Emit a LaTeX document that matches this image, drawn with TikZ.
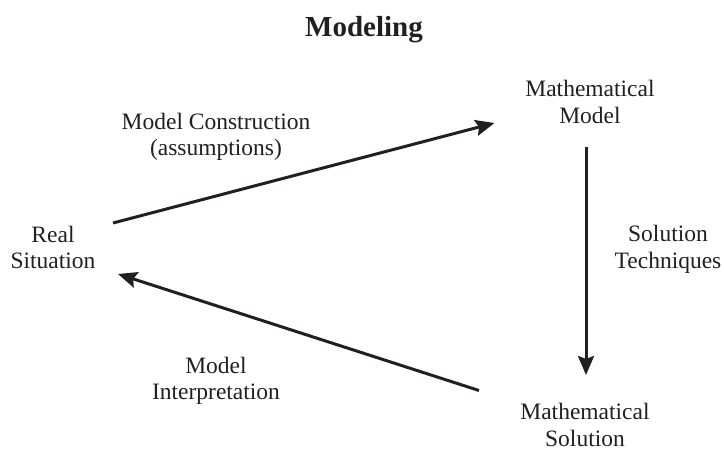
\documentclass[tikz,border=0pt]{standalone}
\usepackage{fontspec}
\setmainfont{Liberation Serif}
\usetikzlibrary{arrows.meta}
\definecolor{ink}{RGB}{35,31,32}
\tikzset{
  lbl/.style={align=center, inner sep=0pt, text=ink, font=\fontsize{23.5}{26.5}\selectfont},
  ttl/.style={inner sep=0pt, text=ink, font=\fontsize{29}{33}\selectfont\bfseries},
  conn/.style={draw=ink, line width=3pt, -{Stealth[length=19pt,width=16pt,inset=3pt]}}
}
\begin{document}
\begin{tikzpicture}[x=1pt,y=-1pt]
\useasboundingbox (0,0) rectangle (724,450);
\node[ttl, anchor=base] (title) at (364,36) {Modeling};
\node[lbl] (rs) at (53,247.5) {Real\\Situation};
\node[lbl] (mm) at (590,102) {Mathematical\\Model};
\node[lbl] (ms) at (585,425) {Mathematical\\Solution};
\node[lbl] (mc) at (216,137) {Model Construction\\(assumptions)};
\node[lbl] (st) at (668,249.5) {Solution\\Techniques};
\node[lbl] (mi) at (216,381) {Model\\Interpretation};
\draw[conn] ([shift={(60,-24.5)}]rs.center) -- ([shift={(-95.5,21)}]mm.center);
\draw[conn] ([shift={(-4,45)}]mm.center) -- ([shift={(1,-50)}]ms.center);
\draw[conn] ([shift={(-106,-34.5)}]ms.center) -- ([shift={(65,26.5)}]rs.center);
\end{tikzpicture}
\end{document}
